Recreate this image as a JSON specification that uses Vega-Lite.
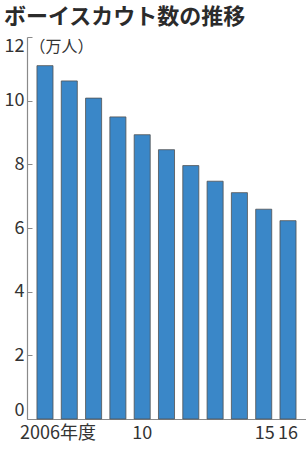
{
  "$schema": "https://vega.github.io/schema/vega-lite/v6.json",
  "width": 279,
  "height": 382,
  "autosize": "none",
  "padding": {"left": 27, "top": 37, "right": 0, "bottom": 31},
  "title": {
    "text": "ボーイスカウト数の推移",
    "anchor": "start",
    "frame": "bounds",
    "font": "Noto Sans CJK JP",
    "fontSize": 22,
    "fontWeight": "bold",
    "color": "#2b2b2b",
    "offset": 8
  },
  "config": {
    "view": {"stroke": null},
    "font": "Noto Sans CJK JP"
  },
  "data": {
    "values": [
      {"year": 2006, "scouts": 11.10},
      {"year": 2007, "scouts": 10.62},
      {"year": 2008, "scouts": 10.08},
      {"year": 2009, "scouts": 9.49},
      {"year": 2010, "scouts": 8.93},
      {"year": 2011, "scouts": 8.46},
      {"year": 2012, "scouts": 7.96},
      {"year": 2013, "scouts": 7.47},
      {"year": 2014, "scouts": 7.11},
      {"year": 2015, "scouts": 6.59},
      {"year": 2016, "scouts": 6.23}
    ]
  },
  "mark": {"type": "bar", "color": "#3a87c8", "stroke": "#505050", "strokeWidth": 0.8},
  "encoding": {
    "x": {
      "field": "year",
      "type": "ordinal",
      "scale": {"paddingInner": 0.34, "paddingOuter": 0.41},
      "axis": {
        "title": null,
        "labelAngle": 0,
        "ticks": false,
        "domainColor": "#8a8a8a",
        "domainWidth": 1.2,
        "labelFontSize": 18,
        "labelColor": "#333333",
        "labelPadding": 5,
        "labelOverlap": false,
        "labelExpr": "datum.value == 2006 ? '2006年度' : (datum.value == 2010 || datum.value >= 2015) ? slice('' + datum.value, 2) : ''",
        "labelOffset": {"condition": [{"test": "datum.value == 2006", "value": 13}, {"test": "datum.value == 2015", "value": 1}], "value": 0}
      }
    },
    "y": {
      "field": "scouts",
      "type": "quantitative",
      "scale": {"domain": [0, 12], "nice": false},
      "axis": {
        "title": "（万人）",
        "titleAngle": 0,
        "titleAlign": "left",
        "titleBaseline": "middle",
        "titleX": 2,
        "titleY": 9,
        "titleFontSize": 16,
        "titleFontWeight": "normal",
        "titleColor": "#333333",
        "values": [0, 2, 4, 6, 8, 10, 12],
        "grid": false,
        "tickSize": -5,
        "tickColor": "#8a8a8a",
        "domainColor": "#8a8a8a",
        "domainWidth": 1.2,
        "labelFontSize": 18,
        "labelColor": "#333333",
        "labelPadding": 8,
        "labelFlush": true
      }
    }
  }
}
